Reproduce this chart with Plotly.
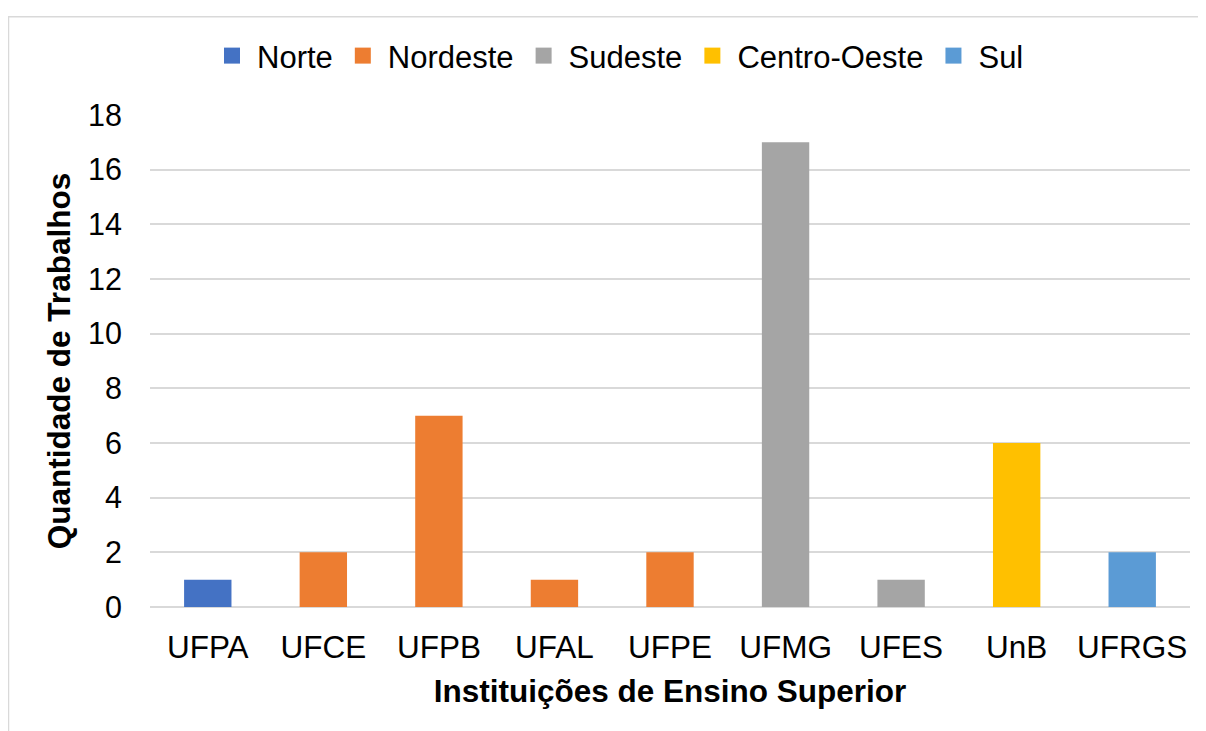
import plotly.graph_objects as go

categories = ["UFPA", "UFCE", "UFPB", "UFAL", "UFPE", "UFMG", "UFES", "UnB", "UFRGS"]
values = [1, 2, 7, 1, 2, 17, 1, 6, 2]
regions = ["Norte", "Nordeste", "Nordeste", "Nordeste", "Nordeste", "Sudeste", "Sudeste", "Centro-Oeste", "Sul"]
region_order = ["Norte", "Nordeste", "Sudeste", "Centro-Oeste", "Sul"]
region_colors = ["#4472C4", "#ED7D31", "#A5A5A5", "#FFC000", "#5B9BD5"]
y_ticks = [0, 2, 4, 6, 8, 10, 12, 14, 16, 18]

FONT = "Liberation Sans, Arial, sans-serif"
GRID = "#D9D9D9"

fig = go.Figure()
for reg, col in zip(region_order, region_colors):
    xs = [c for c, r in zip(categories, regions) if r == reg]
    ys = [v for v, r in zip(values, regions) if r == reg]
    fig.add_trace(go.Bar(x=xs, y=ys, name=reg, legendgroup=reg, showlegend=False,
                         marker=dict(color=col, line=dict(width=0))))
    # legend entry with a larger square swatch
    fig.add_trace(go.Scatter(x=[None], y=[None], mode="markers", name=reg, legendgroup=reg,
                             marker=dict(symbol="square", size=17, color=col, line=dict(width=0)),
                             hoverinfo="skip"))

# page body adds an 8px offset; margins compensate so the plot area lands at x 150-1190, y 115-607
fig.update_layout(
    width=1206, height=731,
    margin=dict(l=142, r=24, t=107, b=132),
    paper_bgcolor="white", plot_bgcolor="white",
    barmode="overlay", bargap=0.59,
    font=dict(family=FONT, size=31, color="#000000"),
    showlegend=True,
    legend=dict(orientation="h", x=0.45, xanchor="center", y=1.12, yanchor="middle",
                font=dict(size=31), itemclick=False, traceorder="normal", itemwidth=40,
                bgcolor="rgba(0,0,0,0)"),
    xaxis=dict(categoryorder="array", categoryarray=categories, showgrid=False,
               showline=False, zeroline=False, ticks="", ticklabelstandoff=18,
               tickfont=dict(size=31.5),
               title=dict(text="<b>Instituições de Ensino Superior</b>", font=dict(size=31.5), standoff=16)),
    yaxis=dict(range=[0, 18], tickvals=y_ticks, showgrid=True, gridcolor=GRID, gridwidth=1.5,
               zeroline=True, zerolinecolor=GRID, zerolinewidth=1.5, showline=False, ticks="",
               ticklabelstandoff=27, tickfont=dict(size=30.5),
               title=dict(text="<b>Quantidade de Trabalhos</b>", font=dict(size=31.5), standoff=8)),
    shapes=[dict(type="rect", xref="paper", yref="paper",
                 x0=(8.5 - 150) / 1040, x1=(1215 - 150) / 1040,
                 y0=(607 - 740) / 493, y1=(607 - 15.5) / 493,
                 line=dict(color=GRID, width=1.5), fillcolor="rgba(0,0,0,0)", layer="below")],
)

fig.write_html("out.html")
